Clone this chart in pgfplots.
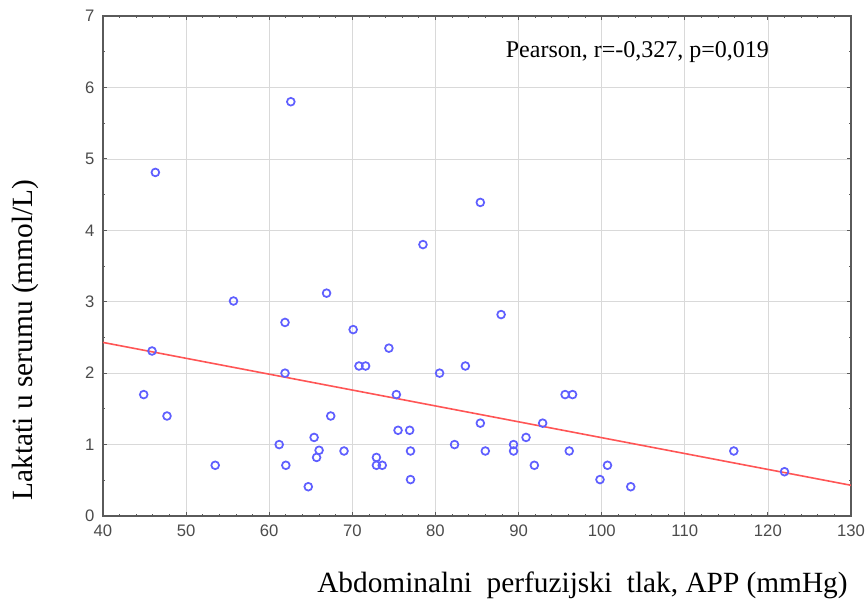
\documentclass[border=0pt]{standalone}
\usepackage{fontspec}
\setmainfont{Liberation Serif}
\newfontfamily\ticksans{Liberation Sans}
\usepackage{pgfplots}
\pgfplotsset{compat=1.18}

\definecolor{ptblue}{RGB}{95,95,255}
\definecolor{fitred}{RGB}{255,85,85}
\definecolor{ticktext}{RGB}{75,75,75}
\definecolor{frame}{RGB}{90,90,90}

\pgfplotstableread{
x y
46.3 4.81
62.6 5.80
85.4 4.39
78.5 3.80
55.7 3.01
66.9 3.12
61.9 2.71
70.1 2.61
74.4 2.35
45.9 2.31
70.8 2.10
71.6 2.10
61.9 2.00
44.9 1.70
47.7 1.40
67.4 1.40
61.2 1.00
65.4 1.10
66.0 0.92
65.7 0.82
69.0 0.91
53.5 0.71
62.0 0.71
64.7 0.41
72.9 0.82
72.9 0.71
73.6 0.71
87.9 2.82
80.5 2.00
83.6 2.10
75.3 1.70
95.6 1.70
96.5 1.70
75.5 1.20
76.9 1.20
85.4 1.30
92.9 1.30
82.3 1.00
77.0 0.91
86.0 0.91
89.4 1.00
89.4 0.91
90.9 1.10
96.1 0.91
91.9 0.71
100.7 0.71
99.8 0.51
103.5 0.41
77.0 0.51
115.9 0.91
122.0 0.62
}\lactate

\begin{document}
\begin{tikzpicture}
  % page = 867x603 px at 0.75pt per px; axis box at px (103,16)-(851,516)
  \useasboundingbox (-77.25pt,-65.25pt) rectangle (573pt,387pt);
  \begin{axis}[
    scale only axis,
    width=561pt, height=375pt,
    xmin=40, xmax=130,
    ymin=0, ymax=7,
    xtick={40,50,...,130},
    ytick={0,1,...,7},
    minor x tick num=4,
    minor y tick num=1,
    tick align=inside,
    major tick length=3pt,
    minor tick length=1.6pt,
    every tick/.style={frame, line width=0.6pt},
    axis line style={frame, line width=1.3pt},
    grid=major,
    major grid style={gray!30, line width=0.5pt},
    tick label style={font=\ticksans\fontsize{12.5}{14}\selectfont, text=ticktext},
    /pgf/number format/assume math mode=true,
    xticklabel style={yshift=-3pt},
    yticklabel style={xshift=-3pt},
    xlabel={Abdominalni\ \ perfuzijski\ \ tlak,\ APP (mmHg)},
    ylabel={Laktati\ u\ serumu\ (mmol/L)},
    label style={font=\fontsize{22}{25}\selectfont},
    xlabel style={at={(axis description cs:0.641,-0.138)}, anchor=center},
    ylabel style={at={(axis description cs:-0.104,0.352)}, anchor=center, rotate=0},
  ]
    \addplot[only marks, mark=o, mark size=2.9pt,
      mark options={ptblue, line width=1.3pt}] table {\lactate};
    \addplot[fitred, line width=1.2pt] coordinates {(40,2.43) (130,0.43)};
    \node[font=\fontsize{18}{21}\selectfont] at (axis cs:104.3,6.49)
      {Pearson, r=-0,327, p=0,019};
  \end{axis}
\end{tikzpicture}
\end{document}
